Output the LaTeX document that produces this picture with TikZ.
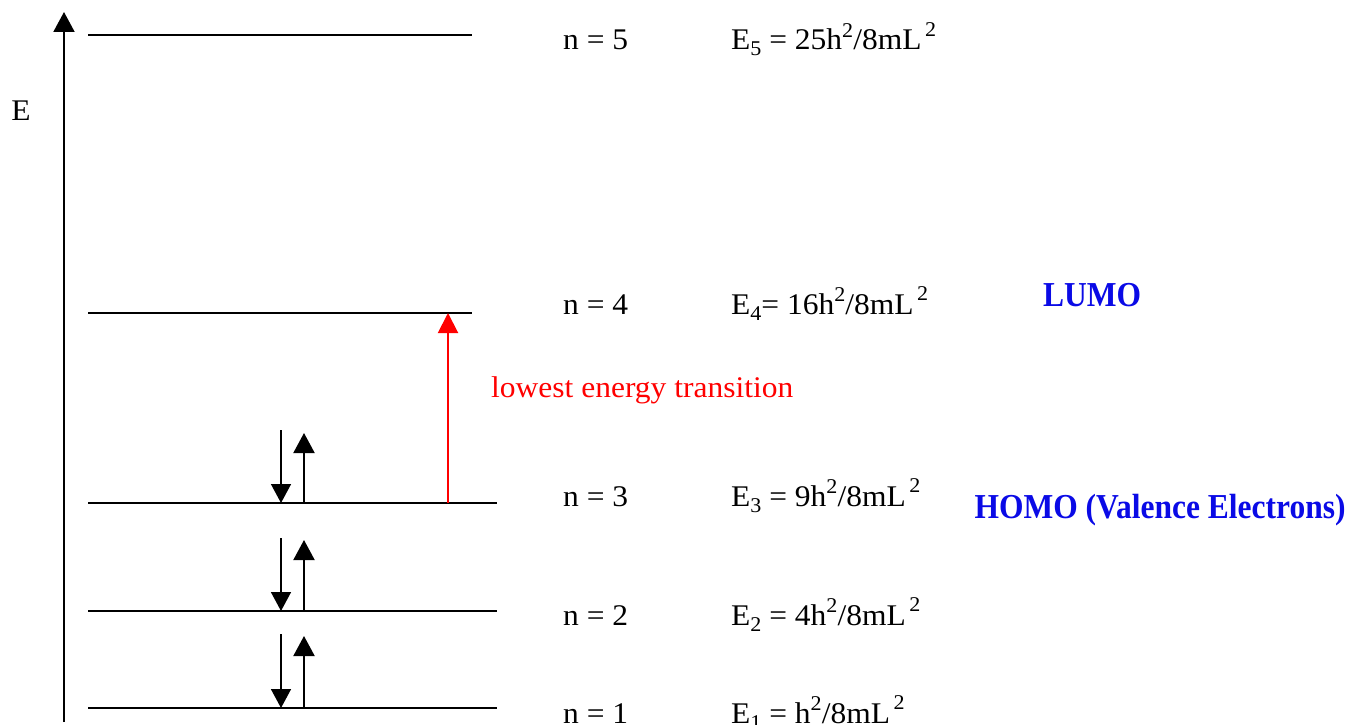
\documentclass[tikz,border=0pt]{standalone}
\usepackage{fontspec}
\setmainfont{Liberation Serif}[FakeStretch=1.05]
\newfontfamily\boldlab{Liberation Serif}[FakeStretch=0.9]
\usetikzlibrary{arrows.meta}
\definecolor{lblue}{RGB}{10,10,230}
\definecolor{lred}{RGB}{255,0,0}
\newcommand{\hsup}[1]{\raisebox{0.42em}{\fontsize{21}{22}\selectfont #1}}
\newcommand{\Lsup}[1]{\raisebox{0.45em}{\fontsize{21}{22}\selectfont\,#1}}
\newcommand{\lsub}[1]{\raisebox{-0.2em}{\fontsize{21}{22}\selectfont #1}}
\begin{document}
\begin{tikzpicture}[x=1pt,y=-1pt,
  levelline/.style={line width=2pt},
  spindown/.style={line width=1.5pt,-{Triangle[width=20pt,length=19pt]}},
  spinup/.style={line width=2pt,-{Triangle[width=21pt,length=20pt]}},
  lab/.style={anchor=base west,inner sep=0pt,font=\fontsize{30}{34}\selectfont},
  boldtxt/.style={inner sep=0pt,text=lblue,font=\boldlab\bfseries\fontsize{35}{40}\selectfont}]
\useasboundingbox (0,0) rectangle (1354,725);
% axis
\coordinate (axb) at (64,722);
\coordinate (axt) at (64,12);
\draw[line width=2pt,-{Triangle[width=21pt,length=20pt]}] (axb) -- (axt);
\node[inner sep=0pt,font=\fontsize{30}{34}\selectfont] (elab) at (21,111) {E};
% levels
\coordinate (l5a) at (88,35);  \coordinate (l5b) at (472,35);
\coordinate (l4a) at (88,313); \coordinate (l4b) at (472,313);
\coordinate (l3a) at (88,503); \coordinate (l3b) at (497,503);
\coordinate (l2a) at (88,611); \coordinate (l2b) at (497,611);
\coordinate (l1a) at (88,708); \coordinate (l1b) at (497,708);
\foreach \k in {1,...,5}{\draw[levelline] (l\k a) -- (l\k b);}
% labels
\node[lab] (n5) at (563,50) {n = 5};
\node[lab] (e5) at (731,50) {E\lsub{5} = 25h\hsup{2}/8mL\Lsup{2}};
\node[lab] (n4) at (563,314) {n = 4};
\node[lab] (e4) at (731,314) {E\lsub{4}= 16h\hsup{2}/8mL\Lsup{2}};
\node[lab] (n3) at (563,506) {n = 3};
\node[lab] (e3) at (731,506) {E\lsub{3} = 9h\hsup{2}/8mL\Lsup{2}};
\node[lab] (n2) at (563,625) {n = 2};
\node[lab] (e2) at (731,625) {E\lsub{2} = 4h\hsup{2}/8mL\Lsup{2}};
\node[lab] (n1) at (563,723) {n = 1};
\node[lab] (e1) at (731,723) {E\lsub{1} = h\hsup{2}/8mL\Lsup{2}};
\node[boldtxt] (lumo) at (1092,295) {LUMO};
\node[boldtxt] (homo) at (1160,510) {HOMO (Valence Electrons)};
% transition
\coordinate (tr0) at (448,503);
\coordinate (tr1) at (448,313);
\draw[lred,line width=2pt,-{Triangle[width=20pt,length=20pt]}] (tr0) -- (tr1);
\node[lab,text=lred] (trlab) at (491,397) {lowest energy transition};
% electrons
\foreach \k/\yl/\yd/\yu in {3/503/430/433,2/611/538/540,1/708/634/636}{
  \coordinate (d\k a) at (281,\yd); \coordinate (d\k b) at (281,\yl);
  \coordinate (u\k a) at (304,\yl); \coordinate (u\k b) at (304,\yu);
  \draw[spindown] (d\k a) -- (d\k b);
  \draw[spinup] (u\k a) -- (u\k b);
}
\end{tikzpicture}
\end{document}
